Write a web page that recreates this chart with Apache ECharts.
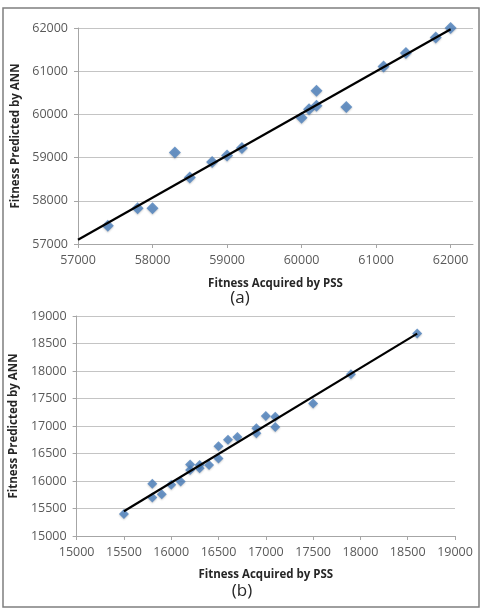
<!DOCTYPE html>
<html>
<head>
<meta charset="utf-8">
<script src="https://cdn.jsdelivr.net/npm/echarts@6/dist/echarts.min.js"></script>
<style>
  html, body { margin: 0; padding: 0; background: #fff; }
  #chart { width: 484px; height: 610px; }
</style>
</head>
<body>
<div id="chart"></div>
<script>
// (a) PSS vs ANN fitness, larger range
const pssA = [57400, 57800, 58000, 58300, 58500, 58800, 59000, 59200, 60000, 60100, 60200, 60200, 60600, 61100, 61400, 61800, 62000];
const annA = [57420, 57830, 57830, 59120, 58540, 58900, 59050, 59220, 59920, 60120, 60200, 60550, 60170, 61110, 61420, 61780, 62000];
const trendA = [[57000, 57100], [62000, 61970]];
const ticksA = [57000, 58000, 59000, 60000, 61000, 62000];

// (b) smaller range
const pssB = [15500, 15800, 15800, 15900, 16000, 16100, 16200, 16200, 16300, 16300, 16400, 16500, 16500, 16600, 16700, 16900, 16900, 17000, 17100, 17100, 17500, 17900, 18600];
const annB = [15400, 15950, 15700, 15760, 15930, 15990, 16300, 16200, 16290, 16230, 16290, 16630, 16410, 16750, 16800, 16960, 16870, 17180, 17170, 16980, 17410, 17940, 18680];
const trendB = [[15500, 15450], [18600, 18680]];

const xName = "Fitness Acquired by PSS";
const yName = "Fitness Predicted by ANN";

const pairs = (xs, ys) => xs.map((x, i) => [x, ys[i]]);

const chart = echarts.init(document.getElementById("chart"));

const labelStyle = {
  color: "#595959",
  fontFamily: "Open Sans",
  fontSize: 12.5,
  formatter: (v) => String(v),
};
const nameStyle = {
  color: "#262626",
  fontFamily: "Open Sans",
  fontWeight: "bold",
  fontSize: 11.5,
};
const axisLine = { show: true, lineStyle: { color: "#a6a6a6", width: 1 } };
const axisTick = { show: true, length: 4, lineStyle: { color: "#a6a6a6" } };
const splitLine = { show: true, lineStyle: { color: "#c4c4c4", width: 1 } };
const diamondStyle = { color: "#4a7ebb", shadowColor: "rgba(0,0,0,0.25)", shadowBlur: 2, shadowOffsetY: 1 };

chart.setOption({
  animation: false,
  backgroundColor: "#fff",
  grid: [
    { left: 78, top: 28, width: 395, height: 216 },
    { left: 76, top: 316, width: 379, height: 220 },
  ],
  xAxis: [
    {
      gridIndex: 0,
      type: "value",
      min: 57000,
      max: 62300,
      interval: 1000,
      name: xName,
      nameLocation: "middle",
      nameGap: 34,
      nameTextStyle: nameStyle,
      axisLine,
      axisTick: { ...axisTick, customValues: ticksA },
      axisLabel: { ...labelStyle, margin: 10, customValues: ticksA },
      splitLine: { show: false },
    },
    {
      gridIndex: 1,
      type: "value",
      min: 15000,
      max: 19000,
      interval: 500,
      name: xName,
      nameLocation: "middle",
      nameGap: 33,
      nameTextStyle: nameStyle,
      axisLine,
      axisTick,
      axisLabel: { ...labelStyle, margin: 10 },
      splitLine: { show: false },
    },
  ],
  yAxis: [
    {
      gridIndex: 0,
      type: "value",
      min: 57000,
      max: 62000,
      interval: 1000,
      name: yName,
      nameLocation: "middle",
      nameGap: 56,
      nameTextStyle: nameStyle,
      axisLine,
      axisTick,
      axisLabel: { ...labelStyle, margin: 10 },
      splitLine,
    },
    {
      gridIndex: 1,
      type: "value",
      min: 15000,
      max: 19000,
      interval: 500,
      name: yName,
      nameLocation: "middle",
      nameGap: 53,
      nameTextStyle: nameStyle,
      axisLine,
      axisTick,
      axisLabel: { ...labelStyle, margin: 10 },
      splitLine,
    },
  ],
  series: [
    {
      type: "scatter",
      xAxisIndex: 0,
      yAxisIndex: 0,
      symbol: "diamond",
      symbolSize: 12,
      itemStyle: diamondStyle,
      data: pairs(pssA, annA),
    },
    {
      type: "line",
      xAxisIndex: 0,
      yAxisIndex: 0,
      showSymbol: false,
      lineStyle: { color: "#000", width: 2.2 },
      z: 5,
      data: trendA,
    },
    {
      type: "scatter",
      xAxisIndex: 1,
      yAxisIndex: 1,
      symbol: "diamond",
      symbolSize: 10,
      itemStyle: diamondStyle,
      data: pairs(pssB, annB),
    },
    {
      type: "line",
      xAxisIndex: 1,
      yAxisIndex: 1,
      showSymbol: false,
      lineStyle: { color: "#000", width: 2.2 },
      z: 5,
      data: trendB,
    },
  ],
  graphic: [
    {
      type: "rect",
      shape: { x: 3, y: 8, width: 476, height: 599 },
      style: { fill: null, stroke: "#7f7f7f", lineWidth: 1.5 },
      silent: true,
    },
    {
      type: "text",
      x: 240,
      y: 298,
      style: { text: "(a)", fill: "#262626", font: "17px 'Open Sans'", textAlign: "center", textVerticalAlign: "middle" },
    },
    {
      type: "text",
      x: 242,
      y: 591,
      style: { text: "(b)", fill: "#262626", font: "17px 'Open Sans'", textAlign: "center", textVerticalAlign: "middle" },
    },
  ],
});
</script>
</body>
</html>
